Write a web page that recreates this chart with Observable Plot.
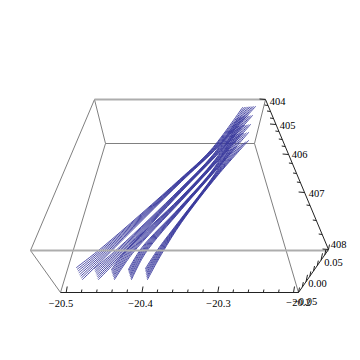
<!DOCTYPE html>
<html><head><meta charset="utf-8">
<script src="https://cdn.jsdelivr.net/npm/d3@7"></script>
<script src="https://cdn.jsdelivr.net/npm/@observablehq/plot@0.6"></script>
<style>html,body{margin:0;padding:0;background:#fff}svg{display:block}</style>
</head><body><div id="chart"></div>
<script>
// Values are read in the projected picture plane of the 3D box.
const ribbon1X = [
  [76,76.9,77.7,78.6,79.4,80.3,81.1,82],
  [102.6,103.3,104,104.7,105.4,106.1,106.8,107.5],
  [179.1,179.4,179.6,179.9,180.1,180.4,180.6,180.9],
  [210.2,210.7,211.2,211.7,212.2,212.7,213.2,213.7],
  [242,243.9,245.7,247.6,249.4,251.3,253.1,255]];
const ribbon1Y = [
  [267,268.7,270.4,272.1,273.9,275.6,277.3,279],
  [246.2,247.3,248.4,249.5,250.6,251.7,252.8,253.9],
  [179,179.3,179.6,179.9,180.2,180.5,180.8,181.1],
  [149.6,149.7,149.8,149.9,150,150.1,150.2,150.3],
  [107,106.9,106.7,106.6,106.4,106.3,106.1,106]];
const ribbon2X = [
  [94,94.6,95.1,95.7,96.3,96.9,97.4,98],
  [118.9,119.5,120.1,120.7,121.3,121.9,122.5,123.1],
  [179.1,179.4,179.6,179.9,180.1,180.4,180.6,180.9],
  [212.2,212.7,213.2,213.7,214.2,214.7,215.2,215.7],
  [238,240,242,244,246,248,250,252]];
const ribbon2Y = [
  [268,269.6,271.1,272.7,274.3,275.9,277.4,279],
  [246.7,247.6,248.6,249.5,250.5,251.4,252.4,253.3],
  [189,189.3,189.6,189.9,190.2,190.5,190.8,191.1],
  [154.6,154.7,154.8,154.9,155,155.1,155.2,155.3],
  [117,116.7,116.4,116.1,115.9,115.6,115.3,115]];
const ribbon3X = [
  [111,111.4,111.9,112.3,112.7,113.1,113.6,114],
  [128.1,128.6,129.2,129.7,130.3,130.8,131.4,131.9],
  [179.1,179.4,179.6,179.9,180.1,180.4,180.6,180.9],
  [214.2,214.7,215.2,215.7,216.2,216.7,217.2,217.7],
  [236,238,240,242,244,246,248,250]];
const ribbon3Y = [
  [269,270.4,271.9,273.3,274.7,276.1,277.6,279],
  [247,247.9,248.7,249.6,250.4,251.3,252.1,253],
  [198,198.3,198.6,198.9,199.2,199.5,199.8,200.1],
  [159.6,159.7,159.8,159.9,160,160.1,160.2,160.3],
  [126,125.7,125.4,125.1,124.9,124.6,124.3,124]];
const ribbon4X = [
  [128,128.4,128.9,129.3,129.7,130.1,130.6,131],
  [141.3,141.8,142.3,142.8,143.3,143.8,144.3,144.8],
  [179.1,179.4,179.6,179.9,180.1,180.4,180.6,180.9],
  [214.2,214.7,215.2,215.7,216.2,216.7,217.2,217.7],
  [232,234.3,236.6,238.9,241.1,243.4,245.7,248]];
const ribbon4Y = [
  [269,270.4,271.9,273.3,274.7,276.1,277.6,279],
  [247.2,248,248.8,249.6,250.4,251.2,252,252.8],
  [207,207.3,207.6,207.9,208.2,208.5,208.8,209.1],
  [166.6,166.7,166.8,166.9,167,167.1,167.2,167.3],
  [135,134.6,134.1,133.7,133.3,132.9,132.4,132]];
const ribbon5X = [
  [145,145.3,145.6,145.9,146.1,146.4,146.7,147],
  [158.4,158.9,159.3,159.8,160.2,160.7,161.1,161.6],
  [179.1,179.4,179.6,179.9,180.1,180.4,180.6,180.9],
  [214.2,214.7,215.2,215.7,216.2,216.7,217.2,217.7],
  [228,230.9,233.7,236.6,239.4,242.3,245.1,248]];
const ribbon5Y = [
  [268,269.6,271.1,272.7,274.3,275.9,277.4,279],
  [247.4,248.1,248.9,249.6,250.4,251.1,251.9,252.6],
  [220,220.3,220.6,220.9,221.2,221.5,221.8,222.1],
  [173.6,173.7,173.8,173.9,174,174.1,174.2,174.3],
  [150,148.6,147.1,145.7,144.3,142.9,141.4,140]];

// Box edges [x1,y1,x2,y2]
const backEdges = [[94,99,105,143],[105,143,254,143],[105,143,60,292],[254,143,298,292],[265,99,254,143],[94,99,30,250],[30,250,60,292]];
const heavyEdges = [[94,99,265,99],[30,250,328,250]];
const axisEdges = [[60,292,298,292],[298,292,328,249],[328,249,265,99]];

// Axis ticks
const xTickPos = [65.7,80.9,96.1,111.3,126.5,141.5,156.7,171.9,187.1,202.3,217.3,232.5,247.7,262.9,278.1,293];
const xTickMajor = [1,0,0,0,0,1,0,0,0,0,1,0,0,0,0,1];
const yTickX = [298,301.8,305.5,309.3,313,316.8,320.5,324.3,328];
const yTickY = [292,286.6,281.3,275.9,270.5,265.1,259.8,254.4,249];
const yTickMajor = [0,0,1,0,0,0,1,0,0];
const zTickX = [265,267.5,270,273,275.5,278.4,281.8,284.7,288.1,291.9,296.1,299.9,304.1,309.5,315.8,321.7,328];
const zTickY = [99,105,111,118,124,131,139,146,154,163,173,182,192,205,220,234,249];
const zTickMajor = [1,0,0,0,1,0,0,0,1,0,0,0,1,0,0,0,1];

// Tick labels
const labelText = ["\u221220.5","\u221220.4","\u221220.3","\u221220.2","\u22120.05","0.00","0.05","404","405","406","407","408"];
const labelX = [60.5,140,218,298,304.5,317,333,277,287,299,316,338];
const labelY = [303,303,303,302,301,283,262,101,125,154,193,244];

const lines = [];
[[ribbon1X,ribbon1Y],[ribbon2X,ribbon2Y],[ribbon3X,ribbon3Y],[ribbon4X,ribbon4Y],[ribbon5X,ribbon5Y]].forEach(([X,Y],r)=>{
  for(let k=0;k<8;k++) X.forEach((col,s)=>lines.push({id:r+"-"+k,x:col[k],y:Y[s][k]}));
});
const seg = a => a.map(([x1,y1,x2,y2])=>({x1,y1,x2,y2}));
const xTicks = xTickPos.map((x,i)=>({x1:x,y1:292,x2:x+(xTickMajor[i]?1:0.5),y2:xTickMajor[i]?286:289}));
const yTicks = yTickX.map((x,i)=>({x1:x,y1:yTickY[i],x2:x+(yTickMajor[i]?1.5:1),y2:yTickY[i]-(yTickMajor[i]?7:5)}));
const zTicks = zTickX.map((x,i)=>({x1:x,y1:zTickY[i],x2:x-(zTickMajor[i]?6:3.5),y2:zTickY[i]-0.5}));
const labels = labelText.map((t,i)=>({t,x:labelX[i],y:labelY[i]}));
const link = (d,o)=>Plot.link(d,{x1:"x1",y1:"y1",x2:"x2",y2:"y2",...o});

const chart = Plot.plot({
  width:360,height:360,margin:0,
  style:{background:"#fff"},
  x:{domain:[0,360],range:[0,360],axis:null},
  y:{domain:[0,360],range:[0,360],axis:null},
  marks:[
    link(seg(backEdges),{stroke:"#808080",strokeWidth:1}),
    Plot.line(lines,{x:"x",y:"y",z:"id",curve:"catmull-rom",stroke:"#38389c",strokeWidth:0.9}),
    link(seg(heavyEdges),{stroke:"#adadad",strokeWidth:2}),
    link(seg(axisEdges),{stroke:"#222",strokeWidth:1}),
    link(xTicks,{stroke:"#222",strokeWidth:1}),
    link(yTicks,{stroke:"#222",strokeWidth:1}),
    link(zTicks,{stroke:"#222",strokeWidth:1}),
    Plot.text(labels,{x:"x",y:"y",text:"t",fontFamily:"Liberation Serif",fontSize:10.5,fill:"#000"})
  ]
});
document.getElementById("chart").append(chart);
</script></body></html>
